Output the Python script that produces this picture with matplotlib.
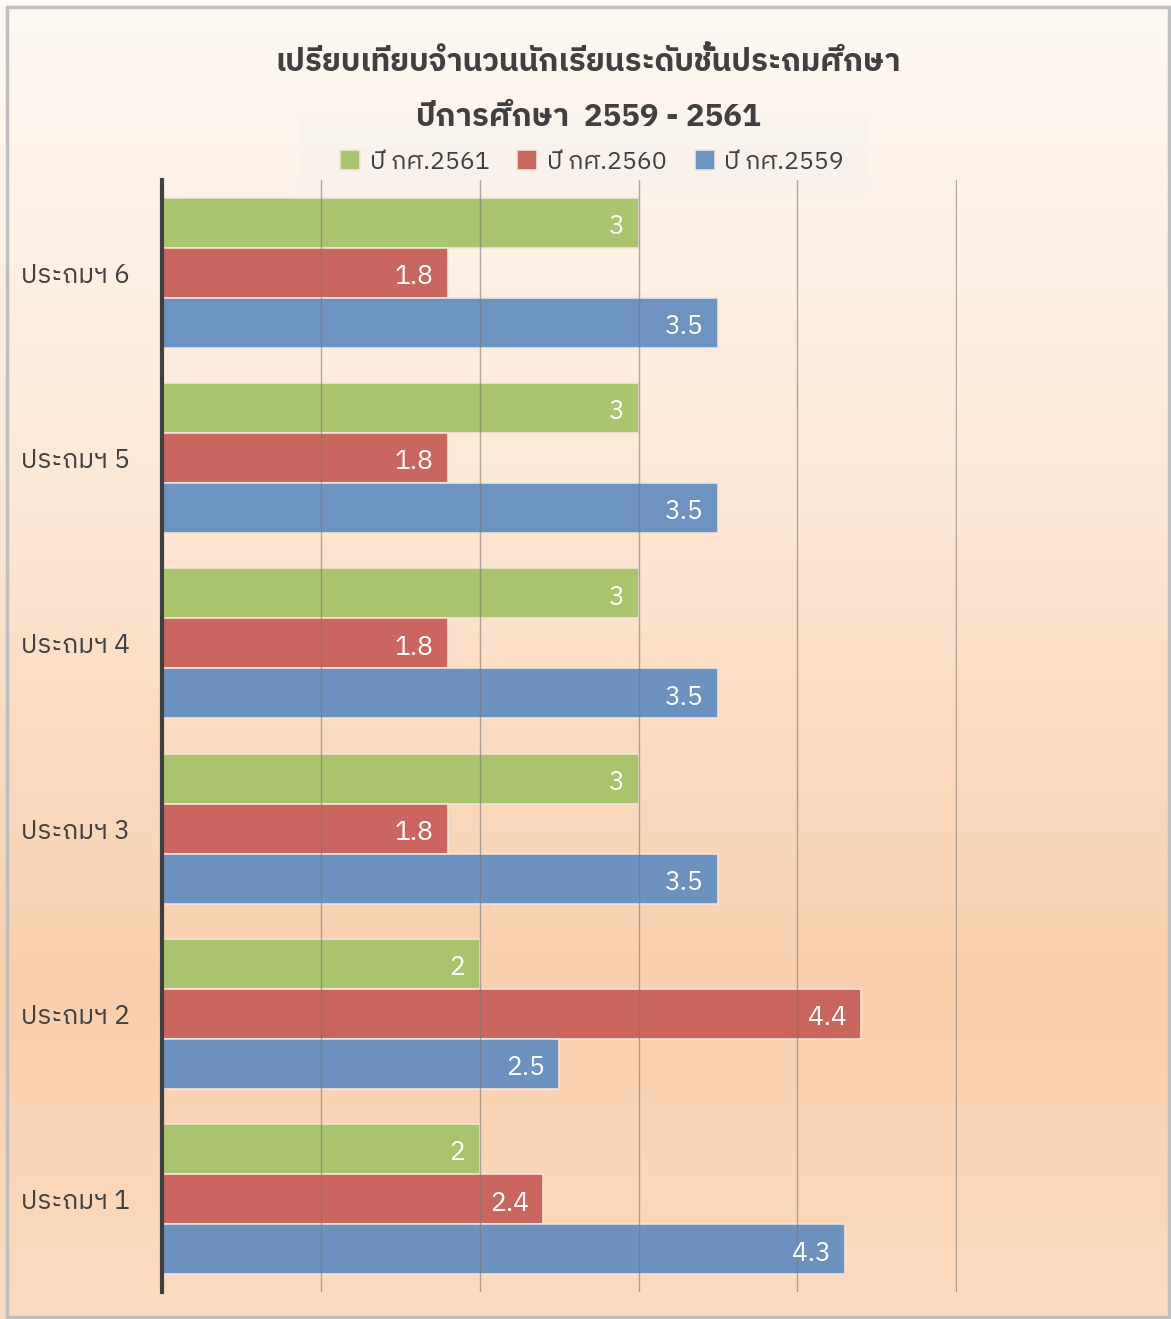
import numpy as np
import matplotlib
matplotlib.use("Agg")
import matplotlib.pyplot as plt
from matplotlib import font_manager as fm
from matplotlib.colors import LinearSegmentedColormap
from matplotlib.patches import Rectangle

# ---- data ----
categories = ["ประถมฯ 1", "ประถมฯ 2", "ประถมฯ 3", "ประถมฯ 4", "ประถมฯ 5", "ประถมฯ 6"]
series_names = ["ปี กศ.2561", "ปี กศ.2560", "ปี กศ.2559"]
v2561 = [2, 2, 3, 3, 3, 3]
v2560 = [2.4, 4.4, 1.8, 1.8, 1.8, 1.8]
v2559 = [4.3, 2.5, 3.5, 3.5, 3.5, 3.5]
title_line1 = "เปรียบเทียบจำนวนนักเรียนระดับชั้นประถมศึกษา"
title_line2 = "ปีการศึกษา  2559 - 2561"

# ---- find a font with Thai glyphs ----
thai_family = None
try:
    from fontTools.ttLib import TTFont
    cands = []
    for f in fm.fontManager.ttflist:
        try:
            tt = TTFont(f.fname, fontNumber=0, lazy=True)
            cmap = tt.getBestCmap()
            if cmap and 0x0E01 in cmap and 0x0E28 in cmap:
                cands.append(f.name)
        except Exception:
            pass
    pref = [c for c in cands if "Looped" in c or "Thai" in c]
    if pref:
        thai_family = pref[0]
    elif cands:
        thai_family = cands[0]
except Exception:
    pass
fams = ([thai_family] if thai_family else []) + ["DejaVu Sans"]
plt.rcParams['font.family'] = fams

W, H = 1171, 1319
fig = plt.figure(figsize=(W / 100, H / 100), dpi=100)

# background gradient
bg = fig.add_axes([0, 0, 1, 1], zorder=-10)
cmap = LinearSegmentedColormap.from_list(
    "bg", [(0, "#FEF9F4"), (0.35, "#FDE9D8"), (0.75, "#F9CFAD"), (1.0, "#FDDBC0")])
grad = np.linspace(0, 1, 256).reshape(-1, 1)
bg.imshow(grad, aspect="auto", cmap=cmap, extent=[0, 1, 0, 1], origin="upper")
bg.set_xlim(0, 1); bg.set_ylim(0, 1)
bg.axis("off")
bg.add_patch(Rectangle((7 / W, 1 - 1317 / H), (1169 - 7) / W, (1317 - 7) / H,
                       fill=False, edgecolor="#BFBFBF", linewidth=2.5, transform=bg.transAxes))

# main axes: x 162..957, y 180..1292
left, right, top, bottom = 162, 957, 180, 1292
ax = fig.add_axes([left / W, 1 - bottom / H, (right - left) / W, (bottom - top) / H])
ax.patch.set_alpha(0)

colors = ["#A9C36B", "#C9625C", "#6890C0"]
h = 0.27
y = np.arange(len(categories))
offsets = [h, 0, -h]
vals = [v2561, v2560, v2559]
for vs, off, c, name in zip(vals, offsets, colors, series_names):
    bars = ax.barh(y + off, vs, height=h, color=c, edgecolor="#F3E6DC", linewidth=1.2,
                   label=name, zorder=2, alpha=0.97)
    for b, v in zip(bars, vs):
        ax.text(b.get_width() - 0.09, b.get_y() + b.get_height() / 2 - 0.02, f"{v:g}",
                ha="right", va="center", color="white", fontsize=19, zorder=4)

ax.set_xlim(0, 5.004)
ax.set_ylim(-0.5, len(categories) - 0.5)
ax.set_xticks([1, 2, 3, 4, 5])
ax.grid(axis="x", color="#7F7770", linewidth=1.0, alpha=0.6, zorder=3)
ax.set_axisbelow(False)
ax.tick_params(axis="x", length=0, labelbottom=False)
ax.tick_params(axis="y", length=0, pad=23)
ax.set_yticks(y)
ax.set_yticklabels(categories, fontsize=19, color="#404040")
for s in ["top", "right", "bottom"]:
    ax.spines[s].set_visible(False)
ax.spines["left"].set_color("#404040")
ax.spines["left"].set_linewidth(3)
ax.spines["left"].set_zorder(5)

# titles
fig.text(588 / W, 1 - 62 / H, title_line1, ha="center", va="center",
         fontsize=22.5, fontweight="bold", color="#404040")
fig.text(588 / W, 1 - 118 / H, title_line2, ha="center", va="center",
         fontsize=22.5, fontweight="bold", color="#404040")

# legend box
bg.add_patch(Rectangle((300 / W, 1 - 196 / H), (868 - 300) / W, (196 - 118) / H,
                       facecolor="#F2F2F2", alpha=0.35, edgecolor="none",
                       transform=bg.transAxes, zorder=5))
leg = fig.legend(loc="center", bbox_to_anchor=(592 / W, 1 - 162 / H), ncol=3,
                 frameon=False, fontsize=18, handlelength=0.8, handleheight=0.8,
                 columnspacing=1.1, handletextpad=0.4, labelcolor="#404040")

fig.savefig("out.png", dpi=100)
